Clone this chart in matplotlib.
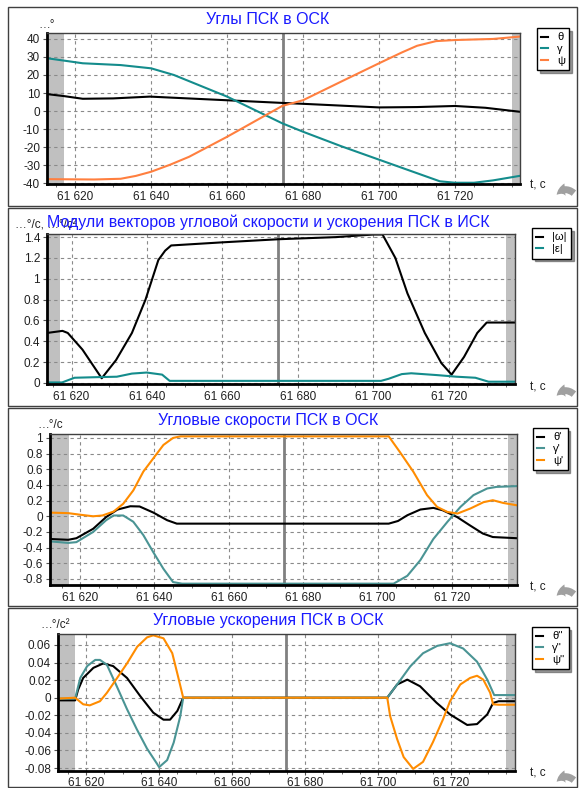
import matplotlib
matplotlib.use("Agg")
import matplotlib.pyplot as plt
import numpy as np
from matplotlib.ticker import FixedLocator, MultipleLocator, FuncFormatter
from matplotlib.patches import Rectangle, FancyArrowPatch

plt.rcParams['font.family'] = ['Liberation Sans', 'DejaVu Sans']

W, H = 579, 788

# ---------------- data ----------------
# Panel 1: angles (deg)
t_theta = [61612.6, 61617, 61622, 61630, 61639.7, 61645.7, 61659.7, 61674.5, 61680, 61690, 61700, 61710, 61720, 61728, 61737]
theta = [9.4, 8.3, 6.8, 7.0, 8.0, 7.4, 6.0, 4.5, 4.0, 3.0, 2.0, 2.2, 2.8, 1.8, -0.4]
t_gamma = [61612.6, 61617, 61622, 61632, 61640, 61646, 61660, 61674.5, 61680, 61690, 61700, 61710, 61716, 61720, 61725, 61730, 61737]
gamma = [29.3, 28.0, 26.5, 25.5, 23.7, 20.0, 8.0, -6.8, -11.5, -19.5, -27.0, -34.5, -39.0, -39.8, -39.8, -38.5, -36.0]
t_psi = [61612.6, 61625, 61632, 61636, 61640, 61645, 61650, 61660, 61674.5, 61680, 61690, 61700, 61706, 61710, 61715, 61720, 61730, 61737]
psi = [-37.8, -38.0, -37.6, -36.0, -33.7, -29.8, -25.4, -14.3, 2.8, 6.0, 16.3, 26.5, 32.5, 36.2, 38.8, 39.4, 40.0, 41.3]

# Panel 2: |omega|, |epsilon|
t_w = [61613.5, 61617.6, 61619, 61622.9, 61628, 61631.8, 61636, 61639.6, 61643, 61644.8, 61646.4, 61660, 61675, 61690, 61700, 61702.4, 61705.8, 61709, 61713.6, 61718, 61720.7, 61724, 61727.5, 61730, 61737.5]
w = [0.48, 0.50, 0.48, 0.32, 0.045, 0.22, 0.48, 0.80, 1.18, 1.27, 1.32, 1.35, 1.38, 1.40, 1.425, 1.425, 1.20, 0.86, 0.48, 0.19, 0.08, 0.25, 0.48, 0.58, 0.58]
t_e = [61613.5, 61617.5, 61620.8, 61626, 61632, 61636, 61639.9, 61644, 61646, 61660, 61702, 61704, 61707.5, 61710, 61717, 61722, 61727, 61730.5, 61737.5]
e = [0.005, 0.005, 0.05, 0.055, 0.06, 0.09, 0.10, 0.08, 0.02, 0.02, 0.02, 0.04, 0.085, 0.093, 0.075, 0.06, 0.05, 0.012, 0.012]

# Panel 3: angular rates (deg/s)
t_r = [61611.9, 61616.8, 61619, 61623.5, 61627, 61630, 61633.5, 61636, 61639.7, 61643.4, 61646, 61660, 61703, 61705.5, 61708, 61711.5, 61715, 61717.5, 61721.4, 61724.8, 61728.3, 61731, 61737.5]
theta_d = [-0.29, -0.30, -0.28, -0.16, -0.01, 0.085, 0.128, 0.125, 0.047, -0.05, -0.094, -0.094, -0.094, -0.06, 0.013, 0.086, 0.107, 0.077, -0.01, -0.115, -0.22, -0.265, -0.28]
t_gd = [61611.9, 61616.8, 61619, 61623.5, 61627, 61629, 61631.6, 61634.3, 61637, 61639.7, 61642.4, 61645, 61647.4, 61660, 61704.3, 61708, 61711.5, 61715, 61718.8, 61722.3, 61725.8, 61729.5, 61732, 61737.5]
gamma_d = [-0.32, -0.34, -0.33, -0.20, -0.05, 0.01, 0.01, -0.07, -0.24, -0.46, -0.67, -0.84, -0.86, -0.86, -0.86, -0.76, -0.56, -0.29, -0.07, 0.12, 0.27, 0.355, 0.375, 0.385]
t_pd = [61611.9, 61616.8, 61620, 61623.5, 61626, 61629, 61631.6, 61634.3, 61637, 61639.7, 61642.4, 61645, 61647, 61660, 61703, 61706, 61709.6, 61713.3, 61716, 61718.8, 61721.5, 61725, 61728.5, 61731, 61733.8, 61737.5]
psi_d = [0.047, 0.04, 0.02, 0.0, 0.01, 0.06, 0.16, 0.33, 0.57, 0.74, 0.91, 1.0, 1.02, 1.02, 1.02, 0.82, 0.57, 0.27, 0.12, 0.055, 0.035, 0.10, 0.18, 0.205, 0.17, 0.14]

# Panel 4: angular accelerations (deg/s^2)
t_tdd = [61612.3, 61617, 61617.8, 61619.2, 61622, 61624.7, 61627.4, 61631.2, 61634.8, 61638.4, 61641.2, 61643, 61645, 61646.6, 61660, 61702.5, 61705.2, 61708, 61711.5, 61716, 61719.7, 61724.4, 61727.1, 61729.9, 61731.5, 61733, 61737.5]
theta_dd = [-0.003, -0.003, 0.009, 0.0225, 0.034, 0.039, 0.036, 0.0225, 0.002, -0.017, -0.025, -0.025, -0.015, 0.0, 0.0, 0.0, 0.015, 0.0206, 0.013, -0.0057, -0.019, -0.031, -0.030, -0.019, -0.006, -0.004, -0.004]
t_gdd = [61612.3, 61617, 61618.4, 61620.3, 61622.5, 61623.8, 61625.7, 61628.4, 61631.2, 61633.9, 61636.7, 61639.4, 61640, 61642.2, 61644, 61645.8, 61646.6, 61660, 61702.5, 61705.2, 61708.8, 61712.3, 61716.2, 61719.7, 61723.3, 61727.1, 61729.9, 61731.8, 61737.5]
gamma_dd = [-0.001, -0.001, 0.0225, 0.036, 0.043, 0.043, 0.0375, 0.013, -0.013, -0.036, -0.058, -0.075, -0.079, -0.071, -0.051, -0.021, 0.0, 0.0, 0.0, 0.015, 0.0356, 0.0506, 0.059, 0.062, 0.056, 0.041, 0.0206, 0.003, 0.003]
t_pdd = [61612.3, 61617, 61619.2, 61621, 61623.8, 61625.7, 61628.5, 61631.2, 61634, 61636.7, 61638.4, 61641.2, 61643.6, 61645.2, 61646.6, 61660, 61702.5, 61703.3, 61705.2, 61707, 61709.6, 61712.3, 61715, 61717.8, 61719.7, 61722.5, 61725.2, 61727.1, 61728.8, 61730.7, 61731.5, 61733, 61737.5]
psi_dd = [-0.001, 0.0, -0.0075, -0.0087, -0.004, 0.0056, 0.0225, 0.039, 0.058, 0.0687, 0.071, 0.0676, 0.0507, 0.024, 0.0, 0.0, 0.0, -0.021, -0.047, -0.0676, -0.081, -0.073, -0.0507, -0.0244, -0.004, 0.015, 0.0225, 0.025, 0.0206, 0.0056, -0.0075, -0.008, -0.008]

xticks = [61620, 61640, 61660, 61680, 61700, 61720]
cursor_t = 61674.7
band_left = 61617.0
band_right = 61735.0

titles = ["Углы ПСК в ОСК",
          "Модули векторов угловой скорости и ускорения ПСК в ИСК",
          "Угловые скорости ПСК в ОСК",
          "Угловые ускорения ПСК в ОСК"]
units = ["…°", "…°/с, …°/с²", "…°/с", "…°/с²"]

C_BLACK = "#000000"
C_TEAL = "#148c8c"
C_TEAL2 = "#4a9494"
C_CORAL = "#ff7f3f"
C_ORANGE = "#ff8c00"

fig = plt.figure(figsize=(W / 100, H / 100), dpi=100)
fig.patch.set_facecolor("white")


def px_axes(l, t, r, b):
    return fig.add_axes([l / W, 1 - b / H, (r - l) / W, (b - t) / H])


def fmt_t(v, pos):
    s = f"{int(round(v)):d}"
    return s[:-3] + " " + s[-3:]


def style_axes(ax, xlim, ylim, yticks, ylabels, xpad):
    ax.set_xlim(*xlim)
    ax.set_ylim(*ylim)
    ax.axvspan(xlim[0], band_left, color="#c0c0c0", lw=0, zorder=0)
    ax.axvspan(band_right, xlim[1], color="#c0c0c0", lw=0, zorder=0)
    ax.xaxis.set_major_locator(FixedLocator(xticks))
    ax.xaxis.set_minor_locator(MultipleLocator(5))
    ax.xaxis.set_major_formatter(FuncFormatter(fmt_t))
    ax.set_yticks(yticks)
    ax.set_yticklabels(ylabels)
    ax.grid(True, which="major", ls=(0, (3, 3)), color="#8a8a8a", lw=0.8)
    ax.set_axisbelow(True)
    ax.tick_params(axis="both", labelsize=8.5, length=3, color="#555555", pad=2, labelcolor="#202020")
    ax.tick_params(axis="x", pad=xpad)
    ax.tick_params(axis="x", which="minor", length=2, color="#555555")
    for s in ("left", "bottom"):
        ax.spines[s].set_linewidth(2.0)
        ax.spines[s].set_color("#000000")
    for s in ("top", "right"):
        ax.spines[s].set_linewidth(1.0)
        ax.spines[s].set_color("#404040")
    ax.axvline(cursor_t, color="#808080", lw=2, zorder=1)


def add_legend(ax, handles, labels, l, t, r, b):
    leg = ax.legend(handles, labels, loc="upper left",
                    bbox_to_anchor=(l / W, 1 - t / H), bbox_transform=fig.transFigure,
                    frameon=True, fancybox=False, shadow={"color": "#555555", "alpha": 0.6},
                    edgecolor="#000000", fontsize=8, handlelength=0.6, handletextpad=0.8,
                    borderpad=0.4, labelspacing=0.15, borderaxespad=0)
    leg.get_frame().set_linewidth(1.0)
    return leg


# panel frames
for (y0, y1) in [(7, 206), (208, 406), (408, 606), (608, 787)]:
    fig.add_artist(Rectangle((8 / W, 1 - y1 / H), (577 - 8) / W, (y1 - y0) / H,
                             transform=fig.transFigure, fill=False, edgecolor="#404040", lw=1.0))

panels = [
    dict(box=(47, 33, 520, 184), xlim=(61612.6, 61737.1), ylim=(-40.5, 43.3),
         yt=[-40, -30, -20, -10, 0, 10, 20, 30, 40], yl=None,
         title_y=20, unit_pos=(38, 25), leg=(537, 28, 573, 70), tc_y=185, arrow_y=192, xpad=2),
    dict(box=(47, 234, 515, 384), xlim=(61613.5, 61737.5), ylim=(-0.01, 1.43),
         yt=[0, 0.2, 0.4, 0.6, 0.8, 1.0, 1.2, 1.4], yl=["0", "0.2", "0.4", "0.6", "0.8", "1", "1.2", "1.4"],
         title_y=222, unit_pos=(15, 225), leg=(532, 228, 570, 258), tc_y=387, arrow_y=393, xpad=2),
    dict(box=(50, 434, 517, 585), xlim=(61611.9, 61737.5), ylim=(-0.877, 1.05),
         yt=[-0.8, -0.6, -0.4, -0.2, 0, 0.2, 0.4, 0.6, 0.8, 1.0],
         yl=["-0.8", "-0.6", "-0.4", "-0.2", "0", "0.2", "0.4", "0.6", "0.8", "1"],
         title_y=420, unit_pos=(37, 425), leg=(533, 428, 573, 472), tc_y=587, arrow_y=593, xpad=2),
    dict(box=(58, 634, 515, 771), xlim=(61612.3, 61737.5), ylim=(-0.0834, 0.0725),
         yt=[-0.08, -0.06, -0.04, -0.02, 0, 0.02, 0.04, 0.06],
         yl=["-0.08", "-0.06", "-0.04", "-0.02", "0", "0.02", "0.04", "0.06"],
         title_y=620, unit_pos=(40, 625), leg=(532, 627, 572, 668), tc_y=773, arrow_y=779, xpad=1),
]

axes = []
for i, p in enumerate(panels):
    ax = px_axes(*p["box"])
    yl = p["yl"] if p["yl"] is not None else [str(v) for v in p["yt"]]
    style_axes(ax, p["xlim"], p["ylim"], p["yt"], yl, p["xpad"])
    axes.append(ax)
    fig.text(268 / W, 1 - p["title_y"] / H, titles[i], color="#1a1aff", fontsize=11.5,
             ha="center", va="center", zorder=5)
    fig.text(p["unit_pos"][0] / W, 1 - p["unit_pos"][1] / H, units[i], color="#202020",
             fontsize=8.5, ha="left", va="center", zorder=4)
    fig.text(530 / W, 1 - p["tc_y"] / H, "t, с", color="#202020", fontsize=8.5, ha="left", va="center")
    ay = p["arrow_y"]
    fig.add_artist(FancyArrowPatch((576 / W, 1 - (ay + 3) / H), (555 / W, 1 - (ay + 5) / H),
                                   transform=fig.transFigure,
                                   connectionstyle="arc3,rad=0.6",
                                   arrowstyle="simple,head_width=9,head_length=7,tail_width=5",
                                   color="#a0a0a0", lw=0))

lw = 1.5
ax = axes[0]
h1, = ax.plot(t_theta, theta, color=C_BLACK, lw=lw)
h2, = ax.plot(t_gamma, gamma, color=C_TEAL, lw=lw)
h3, = ax.plot(t_psi, psi, color=C_CORAL, lw=lw)
add_legend(ax, [h1, h2, h3], ["θ", "γ", "ψ"], *panels[0]["leg"])

ax = axes[1]
h1, = ax.plot(t_w, w, color=C_BLACK, lw=lw)
h2, = ax.plot(t_e, e, color=C_TEAL, lw=lw)
add_legend(ax, [h1, h2], ["|ω|", "|ε|"], *panels[1]["leg"])

ax = axes[2]
h1, = ax.plot(t_r, theta_d, color=C_BLACK, lw=lw)
h2, = ax.plot(t_gd, gamma_d, color=C_TEAL2, lw=lw)
h3, = ax.plot(t_pd, psi_d, color=C_ORANGE, lw=lw)
add_legend(ax, [h1, h2, h3], ["θ'", "γ'", "ψ'"], *panels[2]["leg"])

ax = axes[3]
h1, = ax.plot(t_tdd, theta_dd, color=C_BLACK, lw=lw)
h2, = ax.plot(t_gdd, gamma_dd, color=C_TEAL2, lw=lw)
h3, = ax.plot(t_pdd, psi_dd, color=C_ORANGE, lw=lw)
add_legend(ax, [h1, h2, h3], ["θ''", "γ''", "ψ''"], *panels[3]["leg"])

fig.savefig("out.png", dpi=100, facecolor="white")
